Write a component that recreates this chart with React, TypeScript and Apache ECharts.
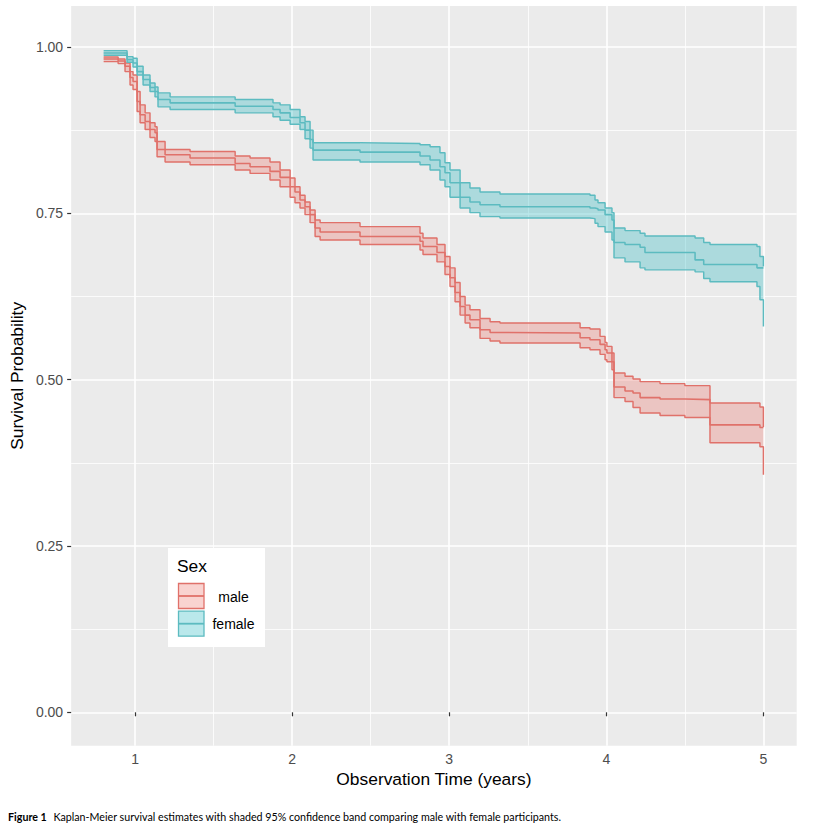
import React, { useEffect, useRef } from "react";
import * as echarts from "echarts";

// Axis ticks
const xTicks = [1, 2, 3, 4, 5];
const xMinorTicks = [1.5, 2.5, 3.5, 4.5];
const yTicks = [0, 0.25, 0.5, 0.75, 1];
const yMinorTicks = [0.125, 0.375, 0.625, 0.875];

const xTitle = "Observation Time (years)";
const yTitle = "Survival Probability";
const legendTitle = "Sex";
const captionBold = "Figure 1";
const captionText =
  "Kaplan-Meier survival estimates with shaded 95% confidence band comparing male with female participants.";

// Male Kaplan-Meier estimate with 95% CI
const maleTime = [0.8, 0.892, 0.936, 0.968, 0.987, 1.013, 1.032, 1.064, 1.095, 1.127, 1.14, 1.191, 1.35, 1.637, 1.732, 1.859, 1.923, 1.987, 2.018, 2.05, 2.082, 2.114, 2.146, 2.178, 2.432, 2.814, 2.833, 2.922, 2.973, 3.005, 3.037, 3.069, 3.101, 3.132, 3.196, 3.26, 3.323, 3.833, 3.896, 3.96, 3.992, 4.004, 4.036, 4.049, 4.119, 4.17, 4.215, 4.342, 4.5, 4.66, 4.978, 5.0];
const maleSurv = [0.982, 0.979, 0.971, 0.954, 0.948, 0.918, 0.898, 0.888, 0.876, 0.871, 0.846, 0.838, 0.833, 0.825, 0.82, 0.813, 0.804, 0.79, 0.782, 0.77, 0.76, 0.748, 0.728, 0.722, 0.715, 0.708, 0.7, 0.691, 0.67, 0.653, 0.631, 0.61, 0.597, 0.59, 0.575, 0.571, 0.57, 0.563, 0.56, 0.553, 0.545, 0.54, 0.527, 0.489, 0.483, 0.48, 0.473, 0.471, 0.47, 0.432, 0.428, 0.428];
const maleUpper = [0.985, 0.982, 0.976, 0.963, 0.958, 0.933, 0.913, 0.901, 0.886, 0.88, 0.858, 0.846, 0.843, 0.836, 0.833, 0.827, 0.815, 0.803, 0.79, 0.777, 0.767, 0.755, 0.74, 0.736, 0.73, 0.72, 0.713, 0.703, 0.685, 0.668, 0.646, 0.625, 0.612, 0.605, 0.592, 0.587, 0.585, 0.578, 0.576, 0.565, 0.556, 0.55, 0.54, 0.51, 0.505, 0.501, 0.497, 0.494, 0.491, 0.465, 0.459, 0.429];
const maleLower = [0.978, 0.975, 0.963, 0.943, 0.936, 0.903, 0.886, 0.876, 0.864, 0.858, 0.835, 0.827, 0.823, 0.815, 0.81, 0.8, 0.79, 0.774, 0.766, 0.758, 0.748, 0.736, 0.715, 0.71, 0.703, 0.695, 0.688, 0.677, 0.658, 0.64, 0.617, 0.597, 0.585, 0.578, 0.562, 0.558, 0.555, 0.548, 0.545, 0.538, 0.53, 0.527, 0.515, 0.473, 0.467, 0.458, 0.45, 0.446, 0.443, 0.405, 0.399, 0.357];

// Female Kaplan-Meier estimate with 95% CI
const femaleTime = [0.8, 0.949, 0.987, 1.013, 1.051, 1.095, 1.127, 1.146, 1.223, 1.637, 1.878, 1.923, 1.987, 2.05, 2.082, 2.114, 2.133, 2.432, 2.814, 2.878, 2.941, 2.973, 3.005, 3.069, 3.132, 3.196, 3.323, 3.896, 3.928, 3.947, 3.992, 4.036, 4.049, 4.119, 4.215, 4.246, 4.565, 4.62, 4.66, 4.959, 4.978, 5.0];
const femaleSurv = [0.991, 0.981, 0.976, 0.963, 0.951, 0.939, 0.933, 0.921, 0.916, 0.911, 0.906, 0.901, 0.894, 0.886, 0.875, 0.861, 0.845, 0.842, 0.836, 0.83, 0.82, 0.811, 0.796, 0.774, 0.767, 0.763, 0.76, 0.758, 0.757, 0.755, 0.748, 0.74, 0.706, 0.703, 0.699, 0.691, 0.68, 0.673, 0.673, 0.668, 0.668, 0.668];
const femaleUpper = [0.9945, 0.9855, 0.983, 0.971, 0.958, 0.946, 0.94, 0.931, 0.925, 0.921, 0.916, 0.913, 0.906, 0.895, 0.888, 0.875, 0.856, 0.855, 0.853, 0.85, 0.841, 0.826, 0.815, 0.796, 0.788, 0.782, 0.779, 0.777, 0.77, 0.766, 0.758, 0.751, 0.728, 0.724, 0.72, 0.716, 0.713, 0.706, 0.703, 0.7, 0.685, 0.67];
const femaleLower = [0.9875, 0.977, 0.97, 0.958, 0.943, 0.933, 0.925, 0.91, 0.906, 0.901, 0.895, 0.89, 0.884, 0.876, 0.862, 0.848, 0.83, 0.827, 0.823, 0.815, 0.8, 0.79, 0.774, 0.758, 0.751, 0.745, 0.743, 0.742, 0.735, 0.73, 0.722, 0.71, 0.683, 0.677, 0.668, 0.665, 0.662, 0.652, 0.647, 0.64, 0.62, 0.58];

const groups = [
  { name: "male", time: maleTime, surv: maleSurv, upper: maleUpper, lower: maleLower, line: "#E0716A", fill: "rgba(235,118,109,0.32)" },
  { name: "female", time: femaleTime, surv: femaleSurv, upper: femaleUpper, lower: femaleLower, line: "#5CBBC0", fill: "rgba(40,185,192,0.32)" },
];

const FONT = "'Liberation Sans', Arial, sans-serif";

export default function App() {
  const ref = useRef<HTMLDivElement>(null);

  useEffect(() => {
    if (!ref.current) return;
    const chart = echarts.init(ref.current, undefined, { renderer: "svg" });

    const series: any[] = [];
    groups.forEach((g) => {
      // shaded confidence band as one step-shaped polygon
      series.push({
        type: "custom",
        name: g.name + " band",
        silent: true,
        z: 1,
        data: g.time.map((t, i) => [t, g.lower[i], g.upper[i]]),
        encode: { x: 0, y: [1, 2] },
        renderItem: (params: any, api: any) => {
          if (params.dataIndex !== 0) return null;
          const n = g.time.length;
          const pts: number[][] = [];
          for (let i = 0; i < n; i++) {
            pts.push(api.coord([g.time[i], g.upper[i]]));
            if (i < n - 1) pts.push(api.coord([g.time[i + 1], g.upper[i]]));
          }
          for (let i = n - 1; i >= 0; i--) {
            if (i < n - 1) pts.push(api.coord([g.time[i + 1], g.lower[i]]));
            pts.push(api.coord([g.time[i], g.lower[i]]));
          }
          return { type: "polygon", shape: { points: pts }, style: { fill: g.fill, stroke: "none" } };
        },
      });
      const lines: [string, number[], number][] = [
        [g.name + " lower", g.lower, 1.45],
        [g.name + " upper", g.upper, 1.45],
        [g.name, g.surv, 1.55],
      ];
      lines.forEach(([nm, vals, w]) => {
        series.push({
          type: "line",
          name: nm,
          data: g.time.map((t, i) => [t, vals[i]]),
          step: "end",
          symbol: "none",
          silent: true,
          lineStyle: { color: g.line, width: w },
          z: 3,
        });
      });
    });

    const xMin = 0.593;
    const xMax = 5.212;
    const yMin = -0.0502;
    const yMax = 1.0616;

    const legendX = 168;
    const legendY = 548;
    const graphic: any[] = [
      { type: "rect", shape: { x: legendX, y: legendY, width: 97, height: 99 }, style: { fill: "#FFFFFF" }, z: 10 },
      { type: "text", x: legendX + 9, y: legendY + 18, style: { text: legendTitle, fontSize: 17.4, fontFamily: FONT, fill: "#000", verticalAlign: "middle" }, z: 11 },
    ];
    groups.forEach((g, i) => {
      const ky = legendY + 35.5 + i * 27.7;
      graphic.push({ type: "rect", shape: { x: legendX + 10.5, y: ky, width: 25.5, height: 25 }, style: { fill: g.fill, stroke: g.line, lineWidth: 1.3 }, z: 11 });
      graphic.push({ type: "line", shape: { x1: legendX + 10.5, y1: ky + 12.5, x2: legendX + 36, y2: ky + 12.5 }, style: { stroke: g.line, lineWidth: 1.8 }, z: 12 });
      graphic.push({ type: "text", x: legendX + 65.5, y: ky + 13, style: { text: g.name, fontSize: 14, fontFamily: FONT, fill: "#000", align: "center", verticalAlign: "middle" }, z: 12 });
    });
    graphic.push({
      type: "text",
      x: 8,
      y: 816.5,
      style: {
        text: "{b|" + captionBold + "}  {n|" + captionText + "}",
        verticalAlign: "middle",
        fill: "#000",
        rich: {
          b: { fontWeight: "bold", fontSize: 10.7, fontFamily: "Lato, sans-serif", fill: "#000" },
          n: { fontSize: 10.7, fontFamily: "Lato, sans-serif", fill: "#000" },
        },
      },
    });

    chart.setOption({
      animation: false,
      backgroundColor: "#FFFFFF",
      grid: { left: 71, right: 18.3, top: 6, bottom: 83.3, show: true, backgroundColor: "#EBEBEB", borderWidth: 0, containLabel: false },
      xAxis: [
        {
          type: "value",
          min: xMin,
          max: xMax,
          position: "bottom",
          axisLine: { show: false },
          axisTick: { show: true, length: 4, lineStyle: { color: "#333333", width: 1.2 }, customValues: xTicks },
          axisLabel: { show: true, customValues: xTicks, color: "#4D4D4D", fontSize: 14, fontFamily: FONT, margin: 6 },
          splitLine: { show: true, lineStyle: { color: "#FFFFFF", width: 1.6 } },
          name: xTitle,
          nameLocation: "middle",
          nameGap: 25,
          nameTextStyle: { fontSize: 17.4, color: "#000", fontFamily: FONT },
        },
        {
          type: "value",
          min: xMin,
          max: xMax,
          position: "top",
          axisLine: { show: false },
          axisTick: { show: false, customValues: xMinorTicks },
          axisLabel: { show: false, customValues: xMinorTicks },
          splitLine: { show: true, lineStyle: { color: "#FFFFFF", width: 0.8 } },
        },
      ],
      yAxis: [
        {
          type: "value",
          min: yMin,
          max: yMax,
          position: "left",
          axisLine: { show: false },
          axisTick: { show: true, length: 4, lineStyle: { color: "#333333", width: 1.2 }, customValues: yTicks },
          axisLabel: { show: true, customValues: yTicks, color: "#4D4D4D", fontSize: 14, fontFamily: FONT, margin: 8, formatter: (v: number) => v.toFixed(2) },
          splitLine: { show: true, lineStyle: { color: "#FFFFFF", width: 1.6 } },
          name: yTitle,
          nameLocation: "middle",
          nameGap: 35,
          nameRotate: 90,
          nameTextStyle: { fontSize: 17.4, color: "#000", fontFamily: FONT },
        },
        {
          type: "value",
          min: yMin,
          max: yMax,
          position: "right",
          axisLine: { show: false },
          axisTick: { show: false, customValues: yMinorTicks },
          axisLabel: { show: false, customValues: yMinorTicks },
          splitLine: { show: true, lineStyle: { color: "#FFFFFF", width: 0.8 } },
        },
      ],
      series,
      graphic,
    });

    return () => chart.dispose();
  }, []);

  return <div ref={ref} style={{ position: "absolute", left: 0, top: 0, width: 815, height: 829 }} />;
}
